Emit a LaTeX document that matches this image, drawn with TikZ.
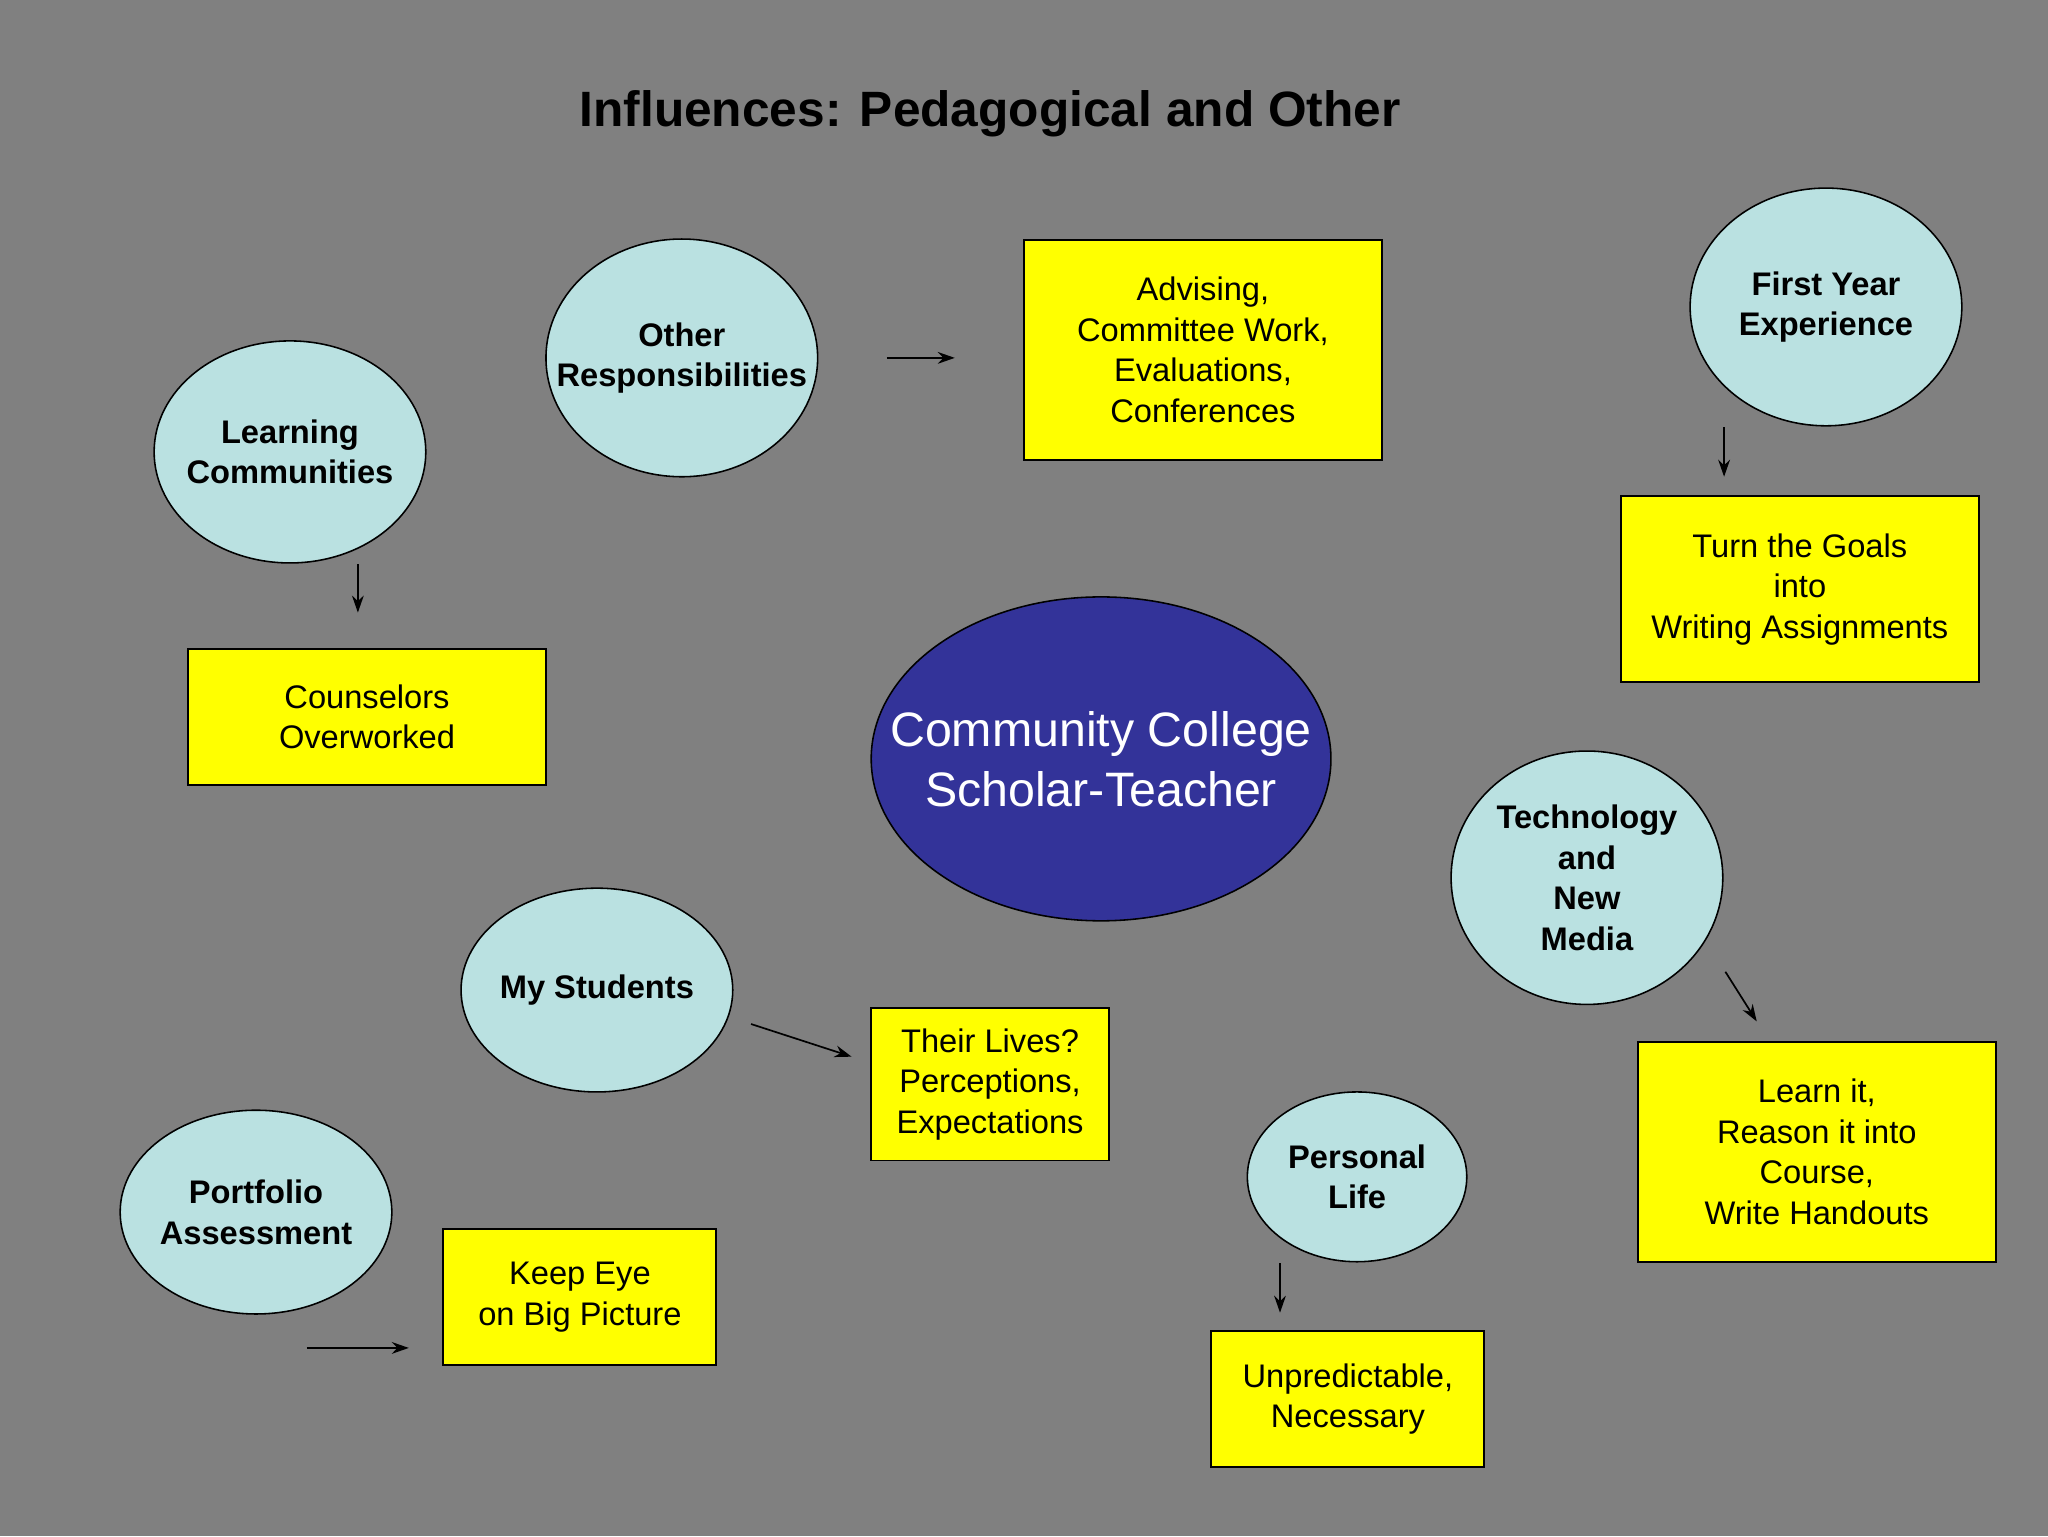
\documentclass[tikz,border=0pt]{standalone}
\usepackage{fontspec}
\setmainfont{Liberation Sans}
\usetikzlibrary{shapes.geometric,arrows.meta}
\definecolor{bg}{HTML}{808080}
\definecolor{cy}{HTML}{BAE1E1}
\definecolor{nv}{HTML}{333399}
\definecolor{yl}{HTML}{FFFF00}
\begin{document}
\begin{tikzpicture}[x=1pt,y=-1pt,
 bub/.style={ellipse,draw=black,line width=1.2pt,fill=cy,inner sep=0pt},
 btxt/.style={align=center,inner sep=0pt,font=\fontsize{25}{31}\selectfont\bfseries},
 ybox/.style={draw=black,line width=1.5pt,fill=yl,inner sep=0pt,align=center,font=\fontsize{25}{31}\selectfont},
 arr/.style={-{Stealth[length=13pt,width=9pt]},line width=1.3pt}]
\fill[bg] (0,0) rectangle (1568,1176);
\useasboundingbox (0,0) rectangle (1568,1176);
\node (title) at (758,87) {\fontsize{38}{44}\selectfont\bfseries Influences: Pedagogical and Other};
% ellipses
\node[bub,minimum width=208pt,minimum height=170pt] (lc) at (222,346) {};
\node[btxt] (lct) at (lc) {Learning\\Communities};
\node[bub,minimum width=208pt,minimum height=182pt] (or) at (522,274) {};
\node[btxt] (ort) at (or) {Other\\Responsibilities};
\node[bub,minimum width=208pt,minimum height=182pt] (fy) at (1398,235) {};
\node[btxt] (fyt) at (fy) {First Year\\Experience};
\node[bub,minimum width=208pt,minimum height=194pt] (tn) at (1215,672) {};
\node[btxt] (tnt) at (tn) {Technology\\and\\New\\Media};
\node[bub,minimum width=208pt,minimum height=156pt] (ms) at (457,758) {};
\node[btxt] (mst) at (ms) {My Students};
\node[bub,minimum width=168pt,minimum height=130pt] (pl) at (1039,901) {};
\node[btxt] (plt) at (pl) {Personal\\Life};
\node[bub,minimum width=208pt,minimum height=156pt] (pa) at (196,928) {};
\node[btxt] (pat) at (pa) {Portfolio\\Assessment};
\node[ellipse,draw=black,line width=1.2pt,fill=nv,inner sep=0pt,minimum width=352pt,minimum height=248pt] (cc) at (843,581) {};
\node[text=white,align=center,inner sep=0pt,font=\fontsize{37}{46}\selectfont] (cct) at (cc) {Community College\\Scholar-Teacher};
% boxes
\node[ybox,minimum width=274pt,minimum height=104pt] (cb) at (281,549) {Counselors\\Overworked};
\node[ybox,minimum width=274pt,minimum height=169pt] (ad) at (921,268) {Advising,\\Committee Work,\\Evaluations,\\Conferences};
\node[ybox,minimum width=274pt,minimum height=143pt] (tg) at (1378,451) {Turn the Goals\\into\\Writing Assignments};
\node[ybox,minimum width=274pt,minimum height=169pt] (li) at (1391,882) {Learn it,\\Reason it into\\Course,\\Write Handouts};
\node[ybox,minimum width=182pt,minimum height=117pt] (tl) at (758,830) {Their Lives?\\Perceptions,\\Expectations};
\node[ybox,minimum width=209pt,minimum height=104pt] (un) at (1032,1071) {Unpredictable,\\Necessary};
\node[ybox,minimum width=209pt,minimum height=104pt] (ke) at (444,993) {Keep Eye\\on Big Picture};
% arrows
\coordinate (a1) at (274,432); \coordinate (b1) at (274,469);
\coordinate (a2) at (679,274); \coordinate (b2) at (731,274);
\coordinate (a3) at (1320,327); \coordinate (b3) at (1320,365);
\coordinate (a4) at (1321,744); \coordinate (b4) at (1345,782);
\coordinate (a5) at (575,784); \coordinate (b5) at (652,809);
\coordinate (a6) at (980,967); \coordinate (b6) at (980,1005);
\coordinate (a7) at (235,1032); \coordinate (b7) at (313,1032);
\foreach \i in {1,...,7} \draw[arr] (a\i) -- (b\i);
\end{tikzpicture}
\end{document}
